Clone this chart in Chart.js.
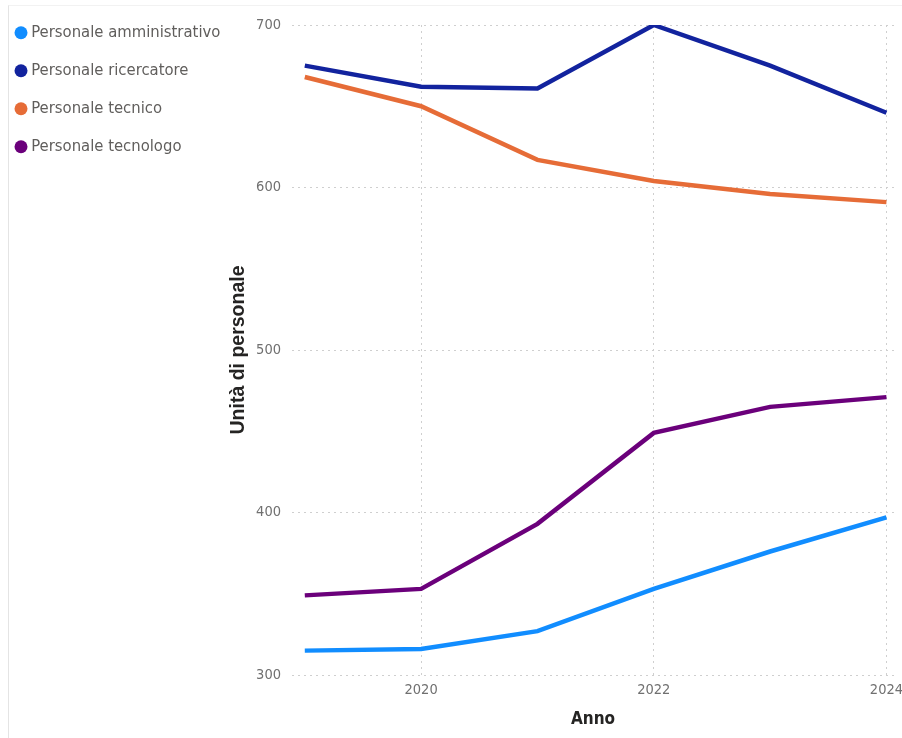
<!DOCTYPE html>
<html>
<head>
<meta charset="utf-8">
<script src="https://cdn.jsdelivr.net/npm/chart.js@4/dist/chart.umd.min.js"></script>
<style>
  html, body { margin: 0; padding: 0; background: #ffffff; }
  #wrap { position: relative; width: 902px; height: 738px; }
  #frame { position: absolute; left: 8px; top: 5px; right: 0; bottom: 0;
           border-left: 1px solid #e4e4e4; border-top: 1px solid #f2f2f2; }
  canvas { position: absolute; left: 0; top: 0; }
</style>
</head>
<body>
<div id="wrap">
  <div id="frame"></div>
  <canvas id="c" width="902" height="738"></canvas>
</div>
<script>
// ---- data ----
const years = [2019, 2020, 2021, 2022, 2023, 2024];
const xTickYears = [2020, 2022, 2024];
const seriesNames = ['Personale amministrativo', 'Personale ricercatore', 'Personale tecnico', 'Personale tecnologo'];
const amministrativo = [315, 316, 327, 353, 376, 397];
const ricercatore   = [675, 662, 661, 700, 675, 646];
const tecnico       = [668, 650, 617, 604, 596, 591];
const tecnologo     = [349, 353, 393, 449, 465, 471];
const yTickValues   = [300, 400, 500, 600, 700];
const seriesColors  = ['#118DFF', '#12239E', '#E66C37', '#6B007B'];

// ---- layout constants ----
const CHART_LEFT = 292, CHART_TOP = 25, CHART_BOTTOM = 675, CHART_RIGHT = 894;
const PAD_LEFT = -2.5, PAD_TOP = 3;
const LEGEND_W = 227;

const NARROW = '"DejaVu Sans Condensed", "DejaVu Sans", sans-serif';
const TITLE_FONT = '"Liberation Sans", Arial, sans-serif';
const values = [amministrativo, ricercatore, tecnico, tecnologo];

const datasets = seriesNames.map((name, i) => ({
  label: name,
  data: years.map((yr, j) => ({ x: yr, y: values[i][j] })),
  borderColor: seriesColors[i],
  backgroundColor: seriesColors[i],
  borderWidth: 4.5,
  pointRadius: 0,
  pointHoverRadius: 0,
  tension: 0,
  fill: false
}));

new Chart(document.getElementById('c'), {
  type: 'line',
  data: { datasets },
  options: {
    responsive: false,
    animation: false,
    events: [],
    layout: { padding: { left: PAD_LEFT, top: PAD_TOP, right: 0, bottom: 0 } },
    plugins: {
      tooltip: { enabled: false },
      legend: {
        position: 'left',
        align: 'start',
        maxWidth: LEGEND_W,
        labels: {
          usePointStyle: true,
          pointStyle: 'circle',
          boxWidth: 4,
          boxHeight: 9.2,
          padding: 21.5,
          color: '#605E5C',
          font: { family: NARROW, size: 16.5 },
          generateLabels: (chart) =>
            Chart.defaults.plugins.legend.labels.generateLabels(chart)
              .map(l => Object.assign(l, { lineWidth: 0 }))
        }
      }
    },
    scales: {
      x: {
        type: 'linear',
        min: 2018.89,
        max: 2024.065,
        afterBuildTicks: (s) => { s.ticks = xTickYears.map(v => ({ value: v })); },
        afterFit: (s) => { s.height = 738 - CHART_BOTTOM; s.paddingLeft = 0; s.paddingRight = 902 - CHART_RIGHT; },
        ticks: {
          autoSkip: false, maxRotation: 0, padding: 7,
          color: '#707070',
          font: { family: NARROW, size: 14.5 },
          callback: (v) => String(v)
        },
        grid: { color: '#cfcfcf', lineWidth: 1, drawTicks: false },
        border: { display: false, dash: [2, 4] },
        title: {
          display: true, text: 'Anno', color: '#252423',
          font: { family: NARROW, size: 17, weight: 'bold' },
          padding: { top: 0, bottom: 8 }
        }
      },
      y: {
        min: 300, max: 700,
        afterBuildTicks: (s) => { s.ticks = yTickValues.map(v => ({ value: v })); },
        afterFit: (s) => {
          s.width = CHART_LEFT - PAD_LEFT - s.chart.legend.width;
          s.paddingTop = CHART_TOP;
        },
        ticks: {
          padding: 11, color: '#707070',
          font: { family: NARROW, size: 14.5 }
        },
        grid: { color: '#cfcfcf', lineWidth: 1, drawTicks: false },
        border: { display: false, dash: [2, 4] },
        title: {
          display: true, text: 'Unità di personale', color: '#252423',
          font: { family: TITLE_FONT, size: 19.5, weight: 'bold' },
          padding: { top: 2, bottom: 0 }
        }
      }
    }
  }
});
</script>
</body>
</html>
